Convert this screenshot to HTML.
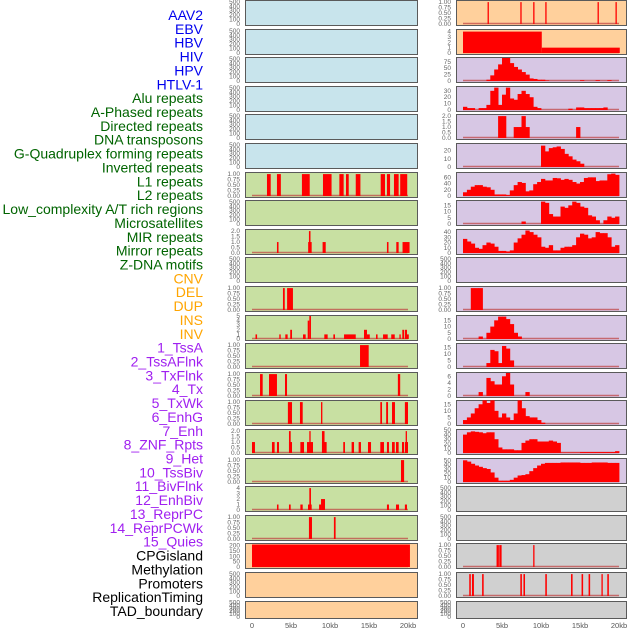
<!DOCTYPE html>
<html><head><meta charset="utf-8"><style>
html,body{margin:0;padding:0;background:#fff;width:630px;height:630px;overflow:hidden}
svg{display:block;font-family:"Liberation Sans",sans-serif}
</style></head><body>
<svg id="chart" width="630" height="630" viewBox="0 0 630 630" xmlns="http://www.w3.org/2000/svg"></svg>
<script>
// ---------- data ----------
const trackLabels = ["AAV2","EBV","HBV","HIV","HPV","HTLV-1","Alu repeats","A-Phased repeats","Directed repeats","DNA transposons","G-Quadruplex forming repeats","Inverted repeats","L1 repeats","L2 repeats","Low_complexity A/T rich regions","Microsatellites","MIR repeats","Mirror repeats","Z-DNA motifs","CNV","DEL","DUP","INS","INV","1_TssA","2_TssAFlnk","3_TxFlnk","4_Tx","5_TxWk","6_EnhG","7_Enh","8_ZNF_Rpts","9_Het","10_TssBiv","11_BivFlnk","12_EnhBiv","13_ReprPC","14_ReprPCWk","15_Quies","CPGisland","Methylation","Promoters","ReplicationTiming","TAD_boundary"];
const labelGroups = [6,13,5,15,5]; // counts per colour group
const xTickValues = [0,5,10,15,20];
const xTickLabels = ["0","5kb","10kb","15kb","20kb"];

// histogram series: 40 bins of 0.5kb
const hivBins = [0,0,0,0,0,0,5,22,45,65,90,90,70,55,45,35,25,10,8,5,5,2,0,0,0,0,0,0,0,0,3,0,0,0,3,0,0,3,0,0];
const aluBins = [5,3,3,0,3,3,8,30,35,8,24,35,18,16,25,30,25,20,5,3,0,0,0,0,0,0,0,2,0,4,4,3,3,3,3,3,4,0,0,0];
const directedBins = [0,0,0,0,0,0,0,0,0,2,2,0,0,1,1,2,1,0,0,0,0,0,0,0,0,0,0,0,0,1,0,0,0,0,0,0,0,0,0,0];
const gquadBins = [0,0,0,0,0,0,0,0,0,0,0,0,0,0,0,0,0,0,0,0,26,19,23,24,25,22,16,13,9,7,4,0,0,0,0,0,0,0,0,0];
const l1Bins = [12,20,30,35,35,30,28,20,5,5,5,3,18,35,45,42,15,18,38,45,55,50,50,58,57,52,55,52,45,40,45,58,60,60,48,50,50,70,72,68];
const lowCompBins = [0,0,0,0,0,0,0,0,0,0,0,0,0,0,0,2,0,0,0,0,18,17,8,6,6,14,13,15,18,17,14,13,7,6,3,0,3,6,5,6];
const mirBins = [27,22,18,10,8,15,20,18,12,4,4,3,5,20,28,35,43,40,35,30,12,10,15,5,5,10,12,12,15,30,37,35,28,30,40,38,38,30,12,15];
const dupBins = [0,0,1,1,1,0,0,0,0,0,0,0,0,0,0,0,0,0,0,0,0,0,0,0,0,0,0,0,0,0,0,0,0,0,0,0,0,0,0,0];
const invBins = [0,0,0,0,2,0,5,10,15,18,18,16,12,5,2,0,0,0,0,0,0,0,0,0,0,0,0,0,0,0,0,0,0,0,0,0,0,0,0,0];
const tssAFlnkBins = [0,0,0,0,0,0,3,13,12,3,16,14,5,0,0,0,0,0,0,0,0,0,0,0,0,0,0,0,0,0,0,0,0,0,0,0,0,0,0,0];
const txBins = [0,0,0,0,1.2,0,5.5,4.5,3.5,3.5,6,7,3.5,0,0,0,1.2,0,0,0,0,0,0,0,0,0,0,0,0,0,0,0,0,0,0,0,0,0,0,0];
const enhGBins = [3,5,8,12,15,18,16,18,10,5,8,5,3,8,18,12,6,5,5,3,1,0,0,0,0,0,0,0,0,0,0,0,0,0,0,0,0,0,0,0];
const znfBins = [40,45,47,46,45,43,45,45,30,12,8,8,8,6,6,22,27,30,30,25,25,25,27,25,22,1,1,1,1,1,2,2,2,2,2,2,2,2,2,4];
const tssBivBins = [50,47,42,38,35,32,30,22,10,3,3,3,5,10,15,16,18,25,32,38,42,44,44,44,44,45,45,45,45,45,44,44,44,45,45,45,45,44,44,44];

// interval series: [startKb, endKb, value]
const aav2Segments = [[3.15,3.3,1],[7.35,7.5,1],[9.0,9.15,1],[10.55,10.7,1],[17.25,17.4,1],[19.55,19.7,1]];
const ebvSegments = [[0,10.1,4],[10.1,20.1,1]];
const cpgSegments = [[4.3,4.6,1],[4.65,4.95,1],[9.0,9.15,1]];
const promoterSegments = [[0.8,1.0,1],[1.15,1.4,1],[2.45,2.65,1],[7.35,7.55,1],[7.75,7.95,1],[10.55,10.75,1],[13.85,14.05,1],[15.2,15.4,1],[16.1,16.3,1],[17.75,17.9,1],[18.5,18.7,1]];
const l1RepeatSegments = [[1.92,2.4,1],[3.2,3.7,1],[6.4,7.4,1],[9.1,10.2,1],[11.2,11.75,1],[12.05,12.4,1],[13.3,13.9,1],[16.5,17.05,1],[17.3,17.7,1],[18.2,18.8,1],[19.0,19.9,1]];
const mirRepeatSegments = [[3.2,3.4,1],[7.2,7.65,1],[7.3,7.5,2],[9.05,9.45,1],[17.3,17.5,1],[18.5,18.8,1],[19.3,20.2,1]];
const delSegments = [[3.97,4.2,1],[4.5,5.25,1]];
const insSegments = [[0.45,0.65,1],[3.5,3.68,1],[4.27,4.57,1],[4.9,5.13,2],[6.54,6.88,1],[7.14,7.35,4],[7.35,7.56,5],[9.27,9.7,1],[10.43,10.64,1],[11.8,13.3,1],[14.36,14.74,2],[14.74,15.1,1],[15.9,16.1,1],[16.8,17.4,1],[17.85,18.3,1],[18.9,19.06,1],[19.27,19.5,2],[19.6,19.87,2],[19.87,20.1,1]];
const tssASegments = [[13.85,14.96,1]];
const txFlnkSegments = [[1.03,1.37,1],[2.18,3.2,1],[4.23,4.49,1],[18.7,19.0,1]];
const txWkSegments = [[4.6,5.13,1],[6.15,6.5,1],[8.85,9.02,1],[16.45,16.67,1],[17.2,17.44,1],[17.95,18.33,1],[19.6,20.0,1]];
const enhSegments = [[0,0.38,1],[2.56,2.9,1],[3.2,3.46,1],[4.74,5.13,1],[4.74,4.96,2],[6.2,6.67,1],[7.05,7.82,1],[7.35,7.45,2],[8.97,9.57,1],[8.97,9.3,2],[11.7,11.92,1],[12.77,13.08,1],[13.67,13.97,1],[14.87,15.26,1],[16.45,16.92,1],[17.3,17.56,1],[17.95,18.3,1],[18.46,18.8,1],[19.23,19.49,1],[19.6,20.0,1],[19.7,19.82,2]];
const hetSegments = [[19.1,19.5,1]];
const bivFlnkSegments = [[3.2,3.4,1],[4.74,4.96,1],[6.2,6.5,1],[7.18,7.65,1],[7.35,7.56,4],[8.6,8.85,1],[8.85,9.36,2],[17.3,17.56,1],[18.46,18.85,1],[19.6,19.87,1]];
const reprPCSegments = [[7.3,7.69,1],[10.5,10.72,1]];
const quiesSegments = [[0,20.25,210]];

// tick label sets
const ticksEmpty = ["500","400","300","200","100","0"];
const ticksUnit = ["1.00","0.75","0.50","0.25","0.00"];
const ticksTwo = ["2.0","1.5","1.0","0.5","0.0"];

// ---------- layout ----------
const svg = document.getElementById('chart');
const NS = 'http://www.w3.org/2000/svg';
const colX = [245, 456], colW = [172, 170], zeroX = [252, 463], kbPx = 7.8;
const tickRight = [240, 451];
const BLUE = '#c8e4ec', PEACH = '#ffd09c', LAV = '#d7c7e4', GREEN = '#c8e0a2', GRAY = '#d0d0d0';
function rowTop(i){ return Math.round(i * 28.6); }
function rowH(i){ return i === 21 ? 17 : 25; }
function xScale(col, kb){ return zeroX[col] + kb * kbPx; }

// panels: [col,row,bg,max,ticks(values,labels),kind,data,name]
const panels = [];
function P(col,row,bg,max,tv,tl,kind,data,name){ panels.push({col,row,bg,max,tv,tl,kind,data,name}); }
const emptyTV=[500,400,300,200,100,0], unitTV=[1,0.75,0.5,0.25,0], twoTV=[2,1.5,1,0.5,0];
for (let r=0;r<6;r++) P(0,r,BLUE,520,emptyTV,ticksEmpty,null,null,'empty-panel-'+r);
P(0,6,GREEN,1.05,unitTV,ticksUnit,'seg',l1RepeatSegments,'l1-repeats-panel');
P(0,7,GREEN,520,emptyTV,ticksEmpty,null,null,'empty-panel-7');
P(0,8,GREEN,2.1,twoTV,ticksTwo,'seg',mirRepeatSegments,'mir-repeats-panel');
P(0,9,GREEN,520,emptyTV,ticksEmpty,null,null,'empty-panel-9');
P(0,10,GREEN,1.05,unitTV,ticksUnit,'seg',delSegments,'del-panel');
P(0,11,GREEN,5,[5,4,3,2,1,0],["5","4","3","2","1","0"],'seg',insSegments,'ins-panel');
P(0,12,GREEN,1.05,unitTV,ticksUnit,'seg',tssASegments,'tssa-panel');
P(0,13,GREEN,1.05,unitTV,ticksUnit,'seg',txFlnkSegments,'txflnk-panel');
P(0,14,GREEN,1.05,unitTV,ticksUnit,'seg',txWkSegments,'txwk-panel');
P(0,15,GREEN,2.1,twoTV,ticksTwo,'seg',enhSegments,'enh-panel');
P(0,16,GREEN,1.05,unitTV,ticksUnit,'seg',hetSegments,'het-panel');
P(0,17,GREEN,4.2,[4,3,2,1,0],["4","3","2","1","0"],'seg',bivFlnkSegments,'bivflnk-panel');
P(0,18,GREEN,1.05,unitTV,ticksUnit,'seg',reprPCSegments,'reprpc-panel');
P(0,19,PEACH,215,[200,150,100,50,0],["200","150","100","50","0"],'seg',quiesSegments,'quies-panel');
P(0,20,PEACH,520,emptyTV,ticksEmpty,null,null,'empty-panel-20');
P(0,21,PEACH,520,emptyTV,ticksEmpty,null,null,'empty-panel-21');

P(1,0,PEACH,1.05,unitTV,ticksUnit,'seg',aav2Segments,'aav2-panel');
P(1,1,PEACH,4.3,[4,3,2,1,0],["4","3","2","1","0"],'seg',ebvSegments,'ebv-panel');
P(1,2,LAV,90,[75,50,25,0],["75","50","25","0"],'bin',hivBins,'hiv-panel');
P(1,3,LAV,36,[30,20,10,0],["30","20","10","0"],'bin',aluBins,'alu-panel');
P(1,4,LAV,2.1,twoTV,ticksTwo,'bin',directedBins,'directed-panel');
P(1,5,LAV,28,[20,10,0],["20","10","0"],'bin',gquadBins,'gquad-panel');
P(1,6,LAV,74,[60,40,20,0],["60","40","20","0"],'bin',l1Bins,'l1-density-panel');
P(1,7,LAV,18.5,[15,10,5,0],["15","10","5","0"],'bin',lowCompBins,'low-complexity-panel');
P(1,8,LAV,44,[40,30,20,10,0],["40","30","20","10","0"],'bin',mirBins,'mir-density-panel');
P(1,9,LAV,520,emptyTV,ticksEmpty,null,null,'zdna-panel');
P(1,10,LAV,1.05,unitTV,ticksUnit,'bin',dupBins,'dup-panel');
P(1,11,LAV,18.5,[15,10,5,0],["15","10","5","0"],'bin',invBins,'inv-panel');
P(1,12,LAV,17.5,[15,10,5,0],["15","10","5","0"],'bin',tssAFlnkBins,'tssaflnk-panel');
P(1,13,LAV,7,[6,4,2,0],["6","4","2","0"],'bin',txBins,'tx-panel');
P(1,14,LAV,17.5,[15,10,5,0],["15","10","5","0"],'bin',enhGBins,'enhg-panel');
P(1,15,LAV,50,[50,40,30,20,10,0],["50","40","30","20","10","0"],'bin',znfBins,'znf-panel');
P(1,16,LAV,53,[50,40,30,20,10,0],["50","40","30","20","10","0"],'bin',tssBivBins,'tssbiv-panel');
P(1,17,GRAY,520,emptyTV,ticksEmpty,null,null,'enhbiv-panel');
P(1,18,GRAY,520,emptyTV,ticksEmpty,null,null,'reprpcwk-panel');
P(1,19,GRAY,1.05,unitTV,ticksUnit,'seg',cpgSegments,'cpg-panel');
P(1,20,GRAY,1.05,unitTV,ticksUnit,'seg',promoterSegments,'promoters-panel');
P(1,21,GRAY,520,emptyTV,ticksEmpty,null,null,'tad-panel');

function mk(tag, attrs){ const e=document.createElementNS(NS,tag); for(const k in attrs) e.setAttribute(k,attrs[k]); svg.appendChild(e); return e; }

panels.forEach(p=>{
  const top=rowTop(p.row), h=rowH(p.row), bottom=top+h, x0=colX[p.col], w=colW[p.col];
  const yScale = v => bottom - 1 - v / p.max * (h - 2);
  const bg = mk('rect',{x:x0+0.5,y:top+0.5,width:w,height:h,fill:p.bg,stroke:'#5a5a5a','stroke-width':1});
  
  
  p.tv.forEach((v,i)=>{
    const t = mk('text',{x:tickRight[p.col],y:yScale(v)+2,'font-size':6.5,fill:'#666','text-anchor':'end'});
    t.textContent = p.tl[i];
    
    
  });
  if(!p.kind) return;
  mk('line',{x1:xScale(p.col,0),x2:xScale(p.col,20),y1:bottom-1.5,y2:bottom-1.5,stroke:'#c04040','stroke-width':1.5,opacity:0.7});
  if(p.kind==='bin'){
    p.data.forEach((v,i)=>{
      if(v<=0) return;
      const xa=xScale(p.col,i*0.5), xb=xScale(p.col,(i+1)*0.5), yv=yScale(v);
      const r = mk('rect',{x:xa,y:yv,width:xb-xa+0.4,height:bottom-1-yv,fill:'#ff0000'});
      
      
    });
  } else {
    p.data.forEach(s=>{
      const xa=xScale(p.col,s[0]), xb=xScale(p.col,s[1]), yv=Math.max(top+1,yScale(s[2]));
      const r = mk('rect',{x:xa,y:yv,width:Math.max(1.3,xb-xa),height:bottom-1-yv,fill:'#ff0000'});
      
      
    });
  }
});

// x-axis labels
[0,1].forEach(col=>{
  xTickValues.forEach((v,i)=>{
    const t = mk('text',{x:xScale(col,v),y:628,'font-size':7.5,fill:'#555','text-anchor':'middle'});
    t.textContent = xTickLabels[i];
    
    
  });
});

// track labels
const groupColors = ['#0000ee','#006400','#ffa500','#a020f0','#000000'];
let gi=0, cnt=0;
trackLabels.forEach((lab,i)=>{
  while(cnt>=labelGroups[gi]){ cnt=0; gi++; }
  cnt++;
  const t = mk('text',{x:203,y:15+i*13.86+5,'font-size':14,fill:groupColors[gi],'text-anchor':'end'});
  t.textContent = lab;
  
  
});
</script>
</body></html>
